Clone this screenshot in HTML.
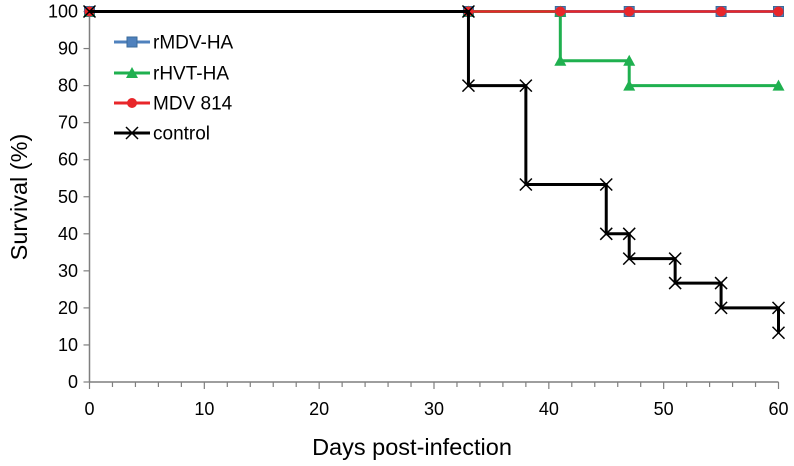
<!DOCTYPE html>
<html><head><meta charset="utf-8"><style>
html,body{margin:0;padding:0;background:#fff;}
svg{display:block;font-family:"Liberation Sans",Arial,sans-serif;}
</style></head><body>
<svg id="chart" width="794" height="466" viewBox="0 0 794 466" xmlns="http://www.w3.org/2000/svg"></svg>
<script>
const xTicks=[0,10,20,30,40,50,60];
const yTicks=[0,10,20,30,40,50,60,70,80,90,100];
const rmdvX=[0,33,41,47,55,60];
const rmdvY=[100,100,100,100,100,100];
const rhvtX=[0,33,41,41,47,47,60];
const rhvtY=[100,100,100,86.7,86.7,80,80];
const mdvX=[0,33,41,47,55,60];
const mdvY=[100,100,100,100,100,100];
const ctrlX=[0,33,33,38,38,45,45,47,47,51,51,55,55,60,60];
const ctrlY=[100,100,80,80,53.3,53.3,40,40,33.3,33.3,26.7,26.7,20,20,13.3];

const svg=document.getElementById('chart');
const NS='http://www.w3.org/2000/svg';
const X0=89.5,X1=778.5,Y0=382,Y1=11.5;
const sx=v=>X0+(v-0)/60*(X1-X0);
const sy=v=>Y0-(v-0)/100*(Y0-Y1);
function mk(tag,attrs,parent){const e=document.createElementNS(NS,tag);for(const k in attrs)e.setAttribute(k,attrs[k]);(parent||svg).appendChild(e);return e;}

const axes=mk('g',{});


mk('line',{x1:X0,y1:Y0,x2:X1,y2:Y0,stroke:'#7f7f7f','stroke-width':1.5},axes);
mk('line',{x1:X0,y1:Y0,x2:X0,y2:Y1,stroke:'#7f7f7f','stroke-width':1.5},axes);
for(let v=0;v<=60;v+=2){const major=v%10===0;mk('line',{x1:sx(v),y1:Y0,x2:sx(v),y2:Y0+(major?7:5),stroke:'#7f7f7f','stroke-width':1.2},axes);}
xTicks.forEach(v=>{const t=mk('text',{x:sx(v),y:415,'text-anchor':'middle','font-size':18,fill:'#000'});t.textContent=v;

});
yTicks.forEach(v=>{mk('line',{x1:X0-6,y1:sy(v),x2:X0,y2:sy(v),stroke:'#7f7f7f','stroke-width':1.2},axes);
const t=mk('text',{x:78,y:sy(v)+6,'text-anchor':'end','font-size':18,fill:'#000'});t.textContent=v;

});
const xt=mk('text',{x:412,y:455,'text-anchor':'middle','font-size':23.5,fill:'#000'});xt.textContent='Days post-infection';


const yt=mk('text',{x:0,y:0,'text-anchor':'middle','font-size':23.5,fill:'#000',transform:'translate(27,197) rotate(-90)'});yt.textContent='Survival (%)';



function marker(g,type,x,y,color){
 if(type==='square')mk('rect',{x:x-5,y:y-5,width:10,height:10,fill:color,stroke:'#3a6a9a','stroke-width':1},g);
 else if(type==='tri')mk('polygon',{points:`${x},${y-6} ${x-6},${y+5} ${x+6},${y+5}`,fill:color},g);
 else if(type==='circle')mk('circle',{cx:x,cy:y,r:5,fill:color},g);
 else {mk('path',{d:`M${x-6},${y-6}L${x+6},${y+6}M${x-6},${y+6}L${x+6},${y-6}`,stroke:color,'stroke-width':1.5,fill:'none'},g);}
}
function series(name,xs,ys,color,w,type){
 const g=mk('g',{});
 
 
 mk('polyline',{points:xs.map((x,i)=>sx(x)+','+sy(ys[i])).join(' '),fill:'none',stroke:color,'stroke-width':w},g);
 xs.forEach((x,i)=>marker(g,type,sx(x),sy(ys[i]),color));
}
series('series-rmdv-ha',rmdvX,rmdvY,'#4f81bd',3,'square');
series('series-rhvt-ha',rhvtX,rhvtY,'#1fb04f',3,'tri');
series('series-mdv-814',mdvX,mdvY,'#e8262a',2.5,'circle');
series('series-control',ctrlX,ctrlY,'#000',3,'x');

const legend=mk('g',{});


const lg=[['rMDV-HA','#4f81bd','square',42],['rHVT-HA','#1fb04f','tri',73],['MDV 814','#e8262a','circle',103],['control','#000','x',133]];
lg.forEach(l=>{const g=mk('g',{},legend);


mk('line',{x1:114,y1:l[3],x2:150,y2:l[3],stroke:l[1],'stroke-width':3},g);
marker(g,l[2],132,l[3],l[1]);
const t=mk('text',{x:153,y:l[3]+6.5,'font-size':19,fill:'#000'},g);t.textContent=l[0];});
</script>
</body></html>
